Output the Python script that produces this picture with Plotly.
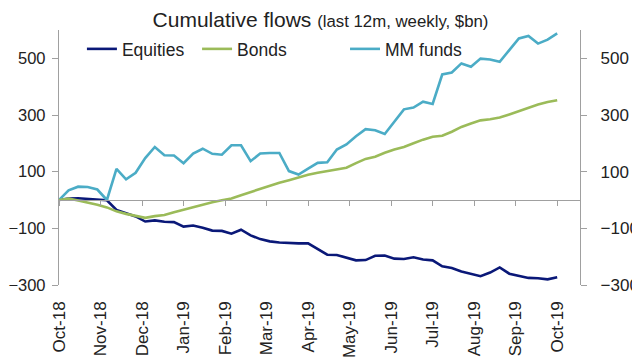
import plotly.graph_objects as go

# weekly observations, Oct-18 .. Oct-19 (53 weeks)
equities = [0, 5, 6, 3, 1, -1, -35, -47, -58, -76, -72, -77, -78, -94, -90, -98,
            -108, -109, -119, -105, -125, -138, -146, -150, -152, -153, -153, -172,
            -193, -194, -204, -213, -212, -197, -196, -207, -208, -202, -210, -213,
            -234, -240, -252, -260, -269, -256, -238, -260, -268, -275, -276, -280, -273]
bonds = [0, 5, -2, -9, -17, -26, -40, -49, -57, -63, -57, -53, -43, -34, -25, -15,
         -8, -1, 5, 17, 28, 40, 52, 61, 70, 80, 89, 96, 102, 108, 114, 130, 145, 153,
         167, 178, 187, 200, 213, 223, 227, 241, 258, 270, 281, 285, 291, 302, 314,
         325, 337, 346, 352]
mm_funds = [0, 34, 47, 46, 37, 0, 110, 73, 96, 148, 187, 158, 157, 130, 164, 181,
            163, 160, 193, 193, 137, 164, 166, 166, 102, 90, 111, 131, 133, 178, 196,
            225, 250, 246, 233, 277, 320, 326, 347, 339, 443, 450, 482, 470, 499, 496,
            488, 529, 570, 579, 552, 566, 588]
month_labels = ["Oct-18", "Nov-18", "Dec-18", "Jan-19", "Feb-19", "Mar-19", "Apr-19",
                "May-19", "Jun-19", "Jul-19", "Aug-19", "Sep-19", "Oct-19"]
y_ticks = [-300, -100, 100, 300, 500]

n_weeks = len(equities)
weeks = list(range(n_weeks))
month_pos = [i * (n_weeks - 1) / 12 for i in range(len(month_labels))]

FONT = "Liberation Sans, Arial, sans-serif"
TXT = "#222222"
AX = "#a0a0a0"

fig = go.Figure()
fig.add_trace(go.Scatter(x=weeks, y=equities, name="Equities", mode="lines",
                         line=dict(color="#0a1878", width=2.6), xaxis="x", yaxis="y",
                         legend="legend", showlegend=True))
fig.add_trace(go.Scatter(x=weeks, y=bonds, name="Bonds", mode="lines",
                         line=dict(color="#9bbb59", width=2.6), xaxis="x2", yaxis="y",
                         legend="legend2", showlegend=True))
fig.add_trace(go.Scatter(x=weeks, y=mm_funds, name="MM funds", mode="lines",
                         line=dict(color="#4bacc6", width=2.6), xaxis="x", yaxis="y2",
                         legend="legend3", showlegend=True))

yr = [-300, 600]
leg_common = dict(orientation="h", yanchor="middle", y=0.9255, xanchor="left",
                  font=dict(family=FONT, size=17.5, color=TXT), bgcolor="rgba(0,0,0,0)",
                  borderwidth=0, visible=True)

# the page body adds an 8px margin, so the figure is sized to fit the window
fig.update_layout(
    width=632, height=352,
    margin=dict(l=51, r=60, t=22, b=75, autoexpand=False),
    showlegend=True,
    paper_bgcolor="white", plot_bgcolor="white",
    font=dict(family=FONT, size=17, color=TXT),
    title=dict(text="Cumulative flows <span style='font-size:16.8px'>(last 12m, weekly, $bn)</span>",
               x=0.4945, xanchor="center", xref="container",
               y=0.966, yanchor="middle", yref="container",
               font=dict(family=FONT, size=21, color=TXT)),
    legend=dict(x=0.044, **leg_common),
    legend2=dict(x=0.265, **leg_common),
    legend3=dict(x=0.549, **leg_common),
    xaxis=dict(range=[0, 54.38], tickmode="array", tickvals=month_pos, ticktext=month_labels,
               tickangle=-90, showline=False, ticks="", showgrid=False, zeroline=False,
               automargin=False,
               tickfont=dict(family=FONT, size=17, color=TXT), ticklabelstandoff=12),
    xaxis2=dict(matches="x", overlaying="x", anchor="free", position=1/3,
                tickmode="array", tickvals=month_pos, showticklabels=False, automargin=False,
                showline=True, linecolor=AX, linewidth=1.3, ticks="outside", ticklen=5,
                tickcolor=AX, tickwidth=1.3, showgrid=False, zeroline=False),
    yaxis=dict(range=yr, tickmode="array", tickvals=y_ticks, showline=True, linecolor=AX,
               linewidth=1.3, ticks="outside", ticklen=6, tickcolor=AX, tickwidth=1.3,
               showgrid=False, zeroline=False, automargin=False,
               tickfont=dict(family=FONT, size=16.5, color=TXT), ticklabelstandoff=3),
    yaxis2=dict(matches="y", overlaying="y", side="right", anchor="x", tickmode="array",
                tickvals=y_ticks, showline=True, linecolor=AX, linewidth=1.3,
                ticks="outside", ticklen=6, tickcolor=AX, tickwidth=1.3, showgrid=False,
                zeroline=False, automargin=False,
                tickfont=dict(family=FONT, size=17, color=TXT), ticklabelstandoff=10),
)

fig.write_html("out.html")
